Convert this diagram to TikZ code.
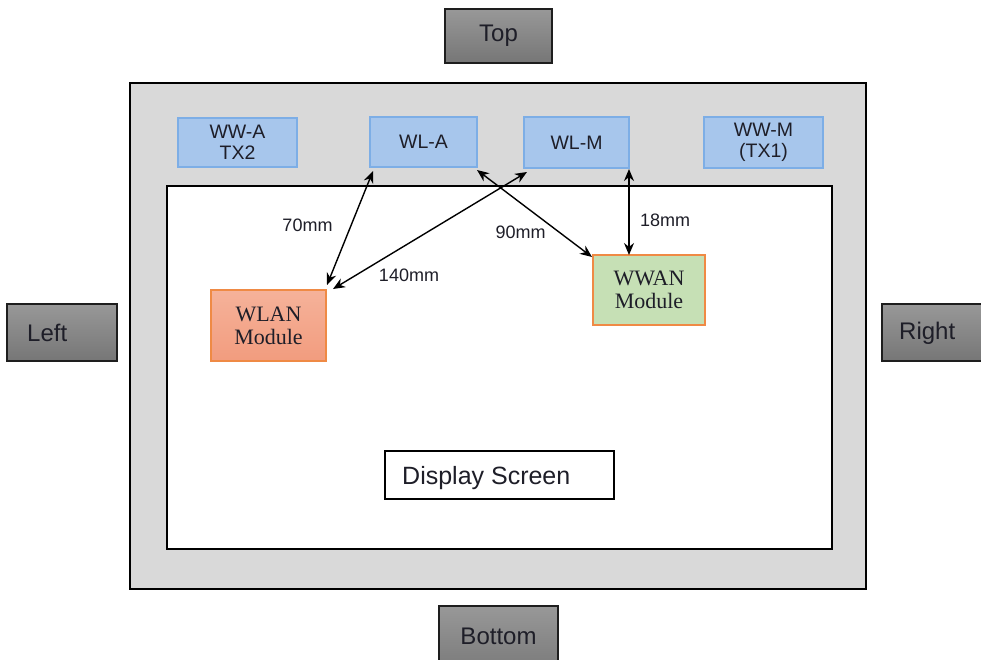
\documentclass[tikz,border=0pt]{standalone}
\usepackage{fontspec}
\setmainfont{Liberation Sans}
\newfontfamily\serifmod{Liberation Serif}
\usetikzlibrary{arrows.meta,calc}
\definecolor{framegray}{HTML}{D9D9D9}
\definecolor{bluefill}{HTML}{A7C6EC}
\definecolor{blueline}{HTML}{7DAEE6}
\definecolor{salmon}{HTML}{F5B29A}
\definecolor{salmondark}{HTML}{F29C7E}
\definecolor{greenfill}{HTML}{C6E0B5}
\definecolor{orangeline}{HTML}{EF8A45}
\definecolor{txt}{HTML}{1E1E28}
\tikzset{
  box/.style={rectangle, inner sep=0pt, outer sep=0pt, align=center},
  sidebox/.style={box, draw={rgb,255:red,30;green,30;blue,30}, line width=1.4pt,
    top color={rgb,255:red,152;green,152;blue,152}, bottom color={rgb,255:red,118;green,118;blue,118},
    font=\fontsize{24}{28}\selectfont, text=txt},
  sidetext/.style={font=\fontsize{24}{28}\selectfont, text=txt, inner sep=0pt},
  antenna/.style={box, draw=blueline, line width=1.3pt, fill=bluefill,
    font=\fontsize{19.5}{21}\selectfont, text=txt},
  module/.style={box, draw=orangeline, line width=1.3pt,
    font=\serifmod\fontsize{22}{23}\selectfont, text=txt},
  dist/.style={font=\fontsize{18}{20}\selectfont, text=txt, inner sep=0pt},
  link/.style={line width=1.4pt, black, {Stealth[length=12pt,width=10pt]}-{Stealth[length=12pt,width=10pt]}}
}
\begin{document}
\begin{tikzpicture}[x=1pt,y=-1pt]
\useasboundingbox (0,0) rectangle (981,659);
\clip (0,0) rectangle (981,659);
% side labels
\node[sidebox, minimum width=107pt, minimum height=54pt] (top) at (498.5,36) {Top};
\node[sidebox, minimum width=110pt, minimum height=57pt] (left) at (62,332.5) {};
\node[sidetext, anchor=base west] (lefttxt) at (27,341) {Left};
\node[sidebox, minimum width=110pt, minimum height=57pt] (right) at (937,332.5) {};
\node[sidetext, anchor=base west] (righttxt) at (899,339) {Right};
\node[sidebox, minimum width=119pt, minimum height=74pt] (bottom) at (498.5,643) {};
\node[sidetext, anchor=base] (bottomtxt) at (498.5,644) {Bottom};
% device frame
\node[box, draw=black, line width=2.8pt, fill=framegray, minimum width=736pt, minimum height=506pt] (frame) at (498,336) {};
\node[box, draw=black, line width=1.3pt, fill=white, minimum width=665pt, minimum height=363pt] (screen) at (499.5,367.5) {};
% antennas
\node[antenna, minimum width=119pt, minimum height=49pt] (wwa) at (237.5,142.5) {WW-A\\TX2};
\node[antenna, minimum width=107pt, minimum height=50pt] (wla) at (423.5,142) {WL-A};
\node[antenna, minimum width=105pt, minimum height=51pt] (wlm) at (576.5,142.5) {WL-M};
\node[antenna, minimum width=119pt, minimum height=51pt] (wwm) at (763.5,142.5) {WW-M\\(TX1)};
% modules
\node[module, top color=salmon, bottom color=salmondark, minimum width=115pt, minimum height=71pt] (wlan) at (268.5,325.5) {WLAN\\Module};
\node[module, fill=greenfill, minimum width=112pt, minimum height=70pt] (wwan) at (649,290) {WWAN\\Module};
% display label
\node[box, draw=black, line width=1.2pt, fill=white, minimum width=229pt, minimum height=48pt] (disp) at (499.5,475) {};
\node[font=\fontsize{25}{28}\selectfont, text=txt, inner sep=0pt, anchor=base west] (disptxt) at (402,484) {Display Screen};
% links
\draw[link] ($(wla.south west)+(3,4)$) -- ($(wlan.north east)+(1,-5)$);
\draw[link] ($(wlm.south west)+(3,4)$) -- ($(wlan.north east)+(7,-1)$);
\draw[link] ($(wla.south east)+(0,3)$) -- ($(wwan.north west)+(-1,2)$);
\draw[link] ($(wlm.south east)+(0,1)$) -- ($(wlm.south east)!(wwan.north)!($(wlm.south east)+(0,10)$)$);
% distances
\node[dist] (d70) at (307.5,225) {70mm};
\node[dist] (d140) at (409,275) {140mm};
\node[dist] (d90) at (520.5,232) {90mm};
\node[dist] (d18) at (665,220) {18mm};
\end{tikzpicture}
\end{document}
